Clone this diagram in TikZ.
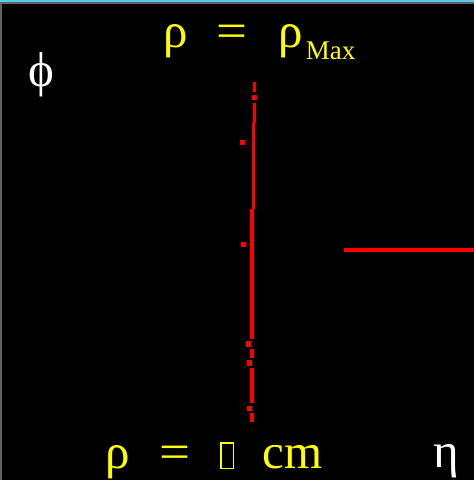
\documentclass[tikz,border=0pt]{standalone}
\usepackage{fontspec}
\setmainfont{Liberation Serif}
\definecolor{topblue}{RGB}{90,200,240}
\definecolor{frame}{RGB}{100,100,100}
\definecolor{yel}{RGB}{255,255,0}
\newcommand{\eqsign}{\scalebox{1.12}[1]{=}}
\newcommand{\tofubox}{{\setlength{\fboxrule}{1.2pt}\setlength{\fboxsep}{0pt}\fbox{\rule{0pt}{24.5pt}\hspace{11.6pt}}}}
\newcommand{\lowsub}[1]{\hspace{3pt}\raisebox{-12pt}{\fontsize{27}{29}\selectfont #1}}
\begin{document}
\begin{tikzpicture}[x=1pt,y=-1pt,
  lbl/.style={inner sep=0pt,outer sep=0pt,anchor=base west,font=\fontsize{49}{52}\selectfont},
  ylbl/.style={lbl,text=yel},
  wlbl/.style={lbl,text=white},
  seg/.style={fill=red}]
\useasboundingbox (0,0) rectangle (474,480);
\fill[black] (0,0) rectangle (474,480);
\fill[frame] (0,0) rectangle (474,4);
\fill[frame] (0,0) rectangle (2,480);
\fill[topblue] (0,0) rectangle (474,2);
% red track
\fill[seg] (252.5,82) rectangle (256,92);
\fill[seg] (252.3,95) rectangle (257.3,100);
\fill[seg] (252.7,103) rectangle (256,123.3);
\fill[seg] (251.7,123.3) rectangle (255,209.3);
\fill[seg] (240,140) rectangle (245,145);
\fill[seg] (250,209.3) rectangle (253.7,339);
\fill[seg] (241,242) rectangle (246,247);
\fill[seg] (246,341) rectangle (251,347);
\fill[seg] (250,349) rectangle (253.7,358);
\fill[seg] (247,360) rectangle (252,366);
\fill[seg] (250,368) rectangle (253.7,403);
\fill[seg] (247,406) rectangle (252,411);
\fill[seg] (250,413) rectangle (253.7,422);
\fill[seg] (344,248) rectangle (474,252);
% labels
\node[ylbl] (top) at (163,47) {ρ\hspace{29pt}\eqsign\hspace{31pt}ρ\lowsub{Max}};
\node[wlbl] (phi) at (28,86) {ϕ};
\node[ylbl] (bot) at (105,468) {ρ\hspace{30pt}\eqsign\hspace{30pt}\tofubox\hspace{28pt}cm};
\node[wlbl] (eta) at (433,467) {η};
\end{tikzpicture}
\end{document}
